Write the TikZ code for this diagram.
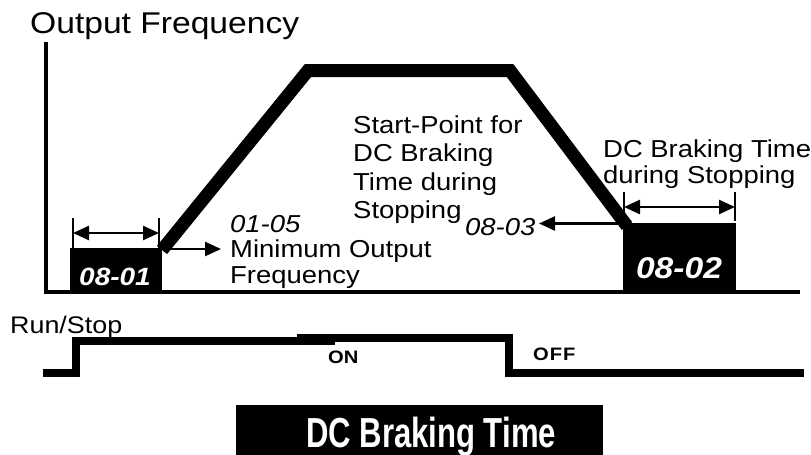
\documentclass[tikz,border=0pt]{standalone}
\usepackage{fontspec}
\setmainfont{Liberation Sans}[FakeStretch=1.12]
\newfontfamily\condfont{Liberation Sans}[FakeStretch=0.74]
\usetikzlibrary{arrows.meta}
\begin{document}
\begin{tikzpicture}[x=1pt,y=-1pt,
  lbl/.style={anchor=base west, inner sep=0pt, align=left, font=\fontsize{24.5}{28.5}\selectfont},
  axisline/.style={line width=3.5pt},
  curve/.style={line width=13pt, miter limit=10},
  sig/.style={line width=8pt},
  blk/.style={fill=black, draw=none, inner sep=0pt, anchor=north west},
  code/.style={anchor=base, inner sep=0pt, text=white, font=\bfseries\itshape},
  dimtick/.style={line width=2pt},
  dimarrow/.style={line width=2.5pt, {Triangle[length=16pt,width=14pt]}-{Triangle[length=16pt,width=14pt]}},
  ptr/.style={line width=2.5pt, -{Triangle[length=16pt,width=14pt]}},
]
\useasboundingbox (0,0) rectangle (811,455);

% axes
\coordinate (ytop) at (46,42);
\coordinate (orig) at (46,292);
\coordinate (xend) at (800,292);
\draw[axisline] (ytop) -- (orig) -- (xend);
\node[lbl, font=\fontsize{30}{34}\selectfont] (title) at (30,33) {Output Frequency};

% blocks
\node[blk, minimum width=92pt, minimum height=44pt] (b1) at (70,248) {};
\node[blk, minimum width=113pt, minimum height=69pt] (b2) at (623,223) {};
\node[code, font=\fontsize{25}{25}\selectfont\bfseries\itshape] (c1) at (115,285) {08-01};
\node[code, font=\fontsize{30}{30}\selectfont\bfseries\itshape] (c2) at (679,278.5) {08-02};

% frequency profile
\coordinate (p0) at (162,250);
\coordinate (p1) at (308,70.5);
\coordinate (p2) at (510,70.5);
\coordinate (p3) at (627,226);
\draw[curve] (p0) -- (p1) -- (p2) -- (p3);

% dimension 08-01
\coordinate (t1a) at (73,218); \coordinate (t1b) at (73,248);
\coordinate (t2a) at (159,218); \coordinate (t2b) at (159,248);
\draw[dimtick] (t1a) -- (t1b);
\draw[dimtick] (t2a) -- (t2b);
\coordinate (d1a) at (73,233); \coordinate (d1b) at (159,233);
\draw[dimarrow] (d1a) -- (d1b);

% dimension 08-02
\coordinate (t3a) at (624,192); \coordinate (t3b) at (624,221);
\coordinate (t4a) at (735,192); \coordinate (t4b) at (735,221);
\draw[dimtick] (t3a) -- (t3b);
\draw[dimtick] (t4a) -- (t4b);
\coordinate (d2a) at (624,207); \coordinate (d2b) at (735,207);
\draw[dimarrow] (d2a) -- (d2b);

% labels (base anchor = baseline of the last line)
\node[lbl, font=\fontsize{24.5}{25.5}\selectfont] (minf) at (230,283) {\itshape 01-05\\Minimum Output\\Frequency};
\node[lbl] (startp) at (353,218.5) {Start-Point for\\DC Braking\\Time during\\Stopping};
\node[lbl, font=\fontsize{24.5}{26}\selectfont] (dcstop) at (603,183) {DC Braking Time\\during Stopping};
\node[lbl, font=\fontsize{24.5}{28}\selectfont\itshape] (c3) at (465,235.5) {08-03};

% pointers
\coordinate (m0) at (163,249); \coordinate (m1) at (221,249);
\draw[ptr] (m0) -- (m1);
\coordinate (s0) at (622,223.5); \coordinate (s1) at (539,223.5);
\draw[ptr] (s0) -- (s1);

% Run/Stop
\node[lbl, font=\fontsize{24}{28}\selectfont] (rs) at (10,333) {Run/Stop};
\coordinate (r0) at (43,373); \coordinate (r1) at (76,373);
\coordinate (r2) at (76,341); \coordinate (r3) at (335,341);
\draw[sig] (r0) -- (r1) -- (r2) -- (r3);
\coordinate (q0) at (297,338); \coordinate (q1) at (509,338);
\coordinate (q2) at (509,372.5); \coordinate (q3) at (804,372.5);
\draw[sig] (q0) -- (q1) -- (q2) -- (q3);
\node[lbl, font=\fontsize{18}{18}\selectfont\bfseries] (on) at (328,363.5) {ON};
\node[lbl, font=\fontsize{18}{18}\selectfont\bfseries] (off) at (533,360) {O\kern1pt F\kern1pt F};

% caption box
\node[blk, minimum width=367pt, minimum height=52pt] (cap) at (236,405) {};
\node[anchor=base, inner sep=0pt, text=white, font=\condfont\bfseries\fontsize{42}{42}\selectfont] (captxt) at (431,447) {DC Braking Time};
\end{tikzpicture}
\end{document}
